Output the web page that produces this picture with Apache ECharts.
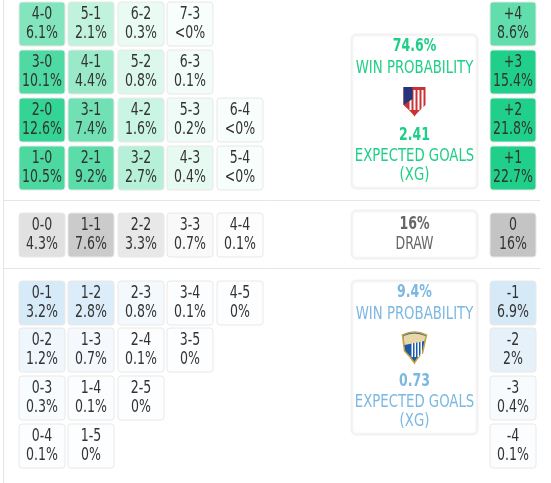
<!DOCTYPE html><html><head><meta charset="utf-8">
<script src="https://cdn.jsdelivr.net/npm/echarts@6/dist/echarts.min.js"></script>
<style>html,body{margin:0;background:#fff}#c{width:551px;height:483px}</style></head><body><div id="c"></div>
<script>
// Home win scores: rows top->bottom, columns left->right
const homeScores=[["4-0","5-1","6-2","7-3"],["3-0","4-1","5-2","6-3"],["2-0","3-1","4-2","5-3","6-4"],["1-0","2-1","3-2","4-3","5-4"]];
const homePct=[["6.1%","2.1%","0.3%","<0%"],["10.1%","4.4%","0.8%","0.1%"],["12.6%","7.4%","1.6%","0.2%","<0%"],["10.5%","9.2%","2.7%","0.4%","<0%"]];
const drawScores=["0-0","1-1","2-2","3-3","4-4"];
const drawPct=["4.3%","7.6%","3.3%","0.7%","0.1%"];
const awayScores=[["0-1","1-2","2-3","3-4","4-5"],["0-2","1-3","2-4","3-5"],["0-3","1-4","2-5"],["0-4","1-5"]];
const awayPct=[["3.2%","2.8%","0.8%","0.1%","0%"],["1.2%","0.7%","0.1%","0%"],["0.3%","0.1%","0%"],["0.1%","0%"]];
const marginHome=["+4","+3","+2","+1"], marginHomePct=["8.6%","15.4%","21.8%","22.7%"];
const marginDraw=["0"], marginDrawPct=["16%"];
const marginAway=["-1","-2","-3","-4"], marginAwayPct=["6.9%","2%","0.4%","0.1%"];
const summary={home:["74.6%","WIN PROBABILITY","2.41","EXPECTED GOALS","(XG)"],draw:["16%","DRAW"],away:["9.4%","WIN PROBABILITY","0.73","EXPECTED GOALS","(XG)"]};

const colX=[19,68,118,167,217], homeY=[2,50,98,146], drawY=[213], awayY=[281,328,376,424], rightX=490;
const CW=46, CH=44;
const num=s=>s.startsWith('<')?0:parseFloat(s);
function fill(kind,p){
  if(kind==='h'){const a=Math.min(1,0.03+0.75*Math.pow(p/10,0.7));return `rgba(32,208,138,${a.toFixed(3)})`;}
  if(kind==='a'){const a=Math.min(1,0.05+p/3.5);return `rgba(214,233,247,${a.toFixed(3)})`;}
  const a=Math.min(1,0.03+p/9);return `rgba(196,196,196,${a.toFixed(3)})`;
}
const cells=[];
homeScores.forEach((r,i)=>r.forEach((s,j)=>cells.push([colX[j],homeY[i],s,homePct[i][j],'h'])));
drawScores.forEach((s,j)=>cells.push([colX[j],drawY[0],s,drawPct[j],'d']));
awayScores.forEach((r,i)=>r.forEach((s,j)=>cells.push([colX[j],awayY[i],s,awayPct[i][j],'a'])));
marginHome.forEach((s,i)=>cells.push([rightX,homeY[i],s,marginHomePct[i],'h']));
cells.push([rightX,drawY[0],marginDraw[0],marginDrawPct[0],'d']);
marginAway.forEach((s,i)=>cells.push([rightX,awayY[i],s,marginAwayPct[i],'a']));

const FONT='"Liberation Sans Narrow","DejaVu Sans Condensed","Noto Sans",sans-serif';
const SX=0.82;
function txt(x,y,s,font,color){
  return {type:'text',x:x,y:y,scaleX:SX,style:{x:0,y:0,text:s,align:'center',verticalAlign:'middle',font:font+' '+FONT,fill:color}};
}
function cellItem(params,api){
  const x=api.value(0),y=api.value(1),d=cells[params.dataIndex];
  const p0=api.coord([x,y]),p1=api.coord([x+CW,y+CH]);
  const w=p1[0]-p0[0],h=p1[1]-p0[1];
  return {type:'group',children:[
    {type:'rect',shape:{x:p0[0],y:p0[1],width:w,height:h,r:3},style:{fill:fill(d[4],num(d[3])),stroke:'#e8e8e8',lineWidth:1}},
    txt(p0[0]+w/2,p0[1]+13,d[2],'17px','#333'),
    txt(p0[0]+w/2,p0[1]+32,d[3],'17px','#333')
  ]};
}
const boxes=[[352,35,125,153,'home','#1fcf87'],[352,211,125,47,'draw','#666'],[352,281,125,153,'away','#7ab8e2']];
function boxItem(params,api){
  const b=boxes[params.dataIndex];
  const p0=api.coord([b[0],b[1]]),p1=api.coord([b[0]+b[2],b[1]+b[3]]);
  const cx=(p0[0]+p1[0])/2, t=summary[b[4]], ch=[
    {type:'rect',shape:{x:p0[0],y:p0[1],width:p1[0]-p0[0],height:p1[1]-p0[1],r:4},style:{fill:'#fff',stroke:'#f0f0f0',shadowBlur:3,shadowColor:'rgba(0,0,0,0.1)'}}];
  if(b[4]==='draw'){
    ch.push(txt(cx,p0[1]+14,t[0],'bold 17px','#666'));
    ch.push(txt(cx,p0[1]+34,t[1],'17px','#666'));
  } else {
    const c=b[5],y0=p0[1];
    ch.push(txt(cx,y0+12,t[0],'bold 17px',c));
    ch.push(txt(cx,y0+33,t[1],'18px',c));
    ch.push(txt(cx,y0+101,t[2],'bold 17px',c));
    ch.push(txt(cx,y0+121,t[3],'18px',c));
    ch.push(txt(cx,y0+140,t[4],'18px',c));
    const ly=y0+52;
    if(b[4]==='home'){
      ch.push({type:'path',shape:{pathData:`M${cx-11},${ly} L${cx+11},${ly} L${cx+11},${ly+18} Q${cx},${ly+28} ${cx},${ly+30} Q${cx},${ly+28} ${cx-11},${ly+18} Z`},style:{fill:'#cb3234'}});
      for(let k=0;k<4;k++)ch.push({type:'rect',shape:{x:cx-5+k*4,y:ly+3,width:2,height:20},style:{fill:'#fff'}});
      ch.push({type:'path',shape:{pathData:`M${cx-11},${ly} L${cx-2},${ly} L${cx-2},${ly+12} L${cx-11},${ly+18} Z`},style:{fill:'#26357a'}});
    } else {
      ch.push({type:'path',shape:{pathData:`M${cx-12},${ly+2} Q${cx},${ly-4} ${cx+12},${ly+2} L${cx+8},${ly+20} Q${cx+2},${ly+26} ${cx},${ly+30} Q${cx-4},${ly+24} ${cx-10},${ly+18} Z`},style:{fill:'#1d5aa8',stroke:'#c9a43c',lineWidth:1.5}});
      for(let k=0;k<4;k++)ch.push({type:'rect',shape:{x:cx-3+k*3,y:ly+8,width:1.5,height:16},style:{fill:'#fff'}});
      ch.push({type:'path',shape:{pathData:`M${cx-11},${ly+3} Q${cx},${ly-2} ${cx+11},${ly+3} L${cx+10},${ly+8} L${cx-10},${ly+12} Z`},style:{fill:'#e8d8a8'}});
    }
  }
  return {type:'group',children:ch};
}
const chart=echarts.init(document.getElementById('c'));
chart.setOption({
  animation:false,
  grid:{left:0,right:0,top:0,bottom:0},
  xAxis:{type:'value',min:0,max:551,show:false},
  yAxis:{type:'value',min:0,max:483,inverse:true,show:false},
  series:[
    {type:'custom',renderItem:cellItem,data:cells.map(c=>[c[0],c[1]])},
    {type:'custom',renderItem:boxItem,data:boxes.map(b=>[b[0],b[1]])},
    {type:'lines',coordinateSystem:'cartesian2d',silent:true,lineStyle:{color:'#e5e5e5',width:1,opacity:1},
     data:[{coords:[[3,200],[540,200]]},{coords:[[3,268],[540,268]]},{coords:[[3,0],[3,483]]}]}
  ]
});
</script></body></html>
